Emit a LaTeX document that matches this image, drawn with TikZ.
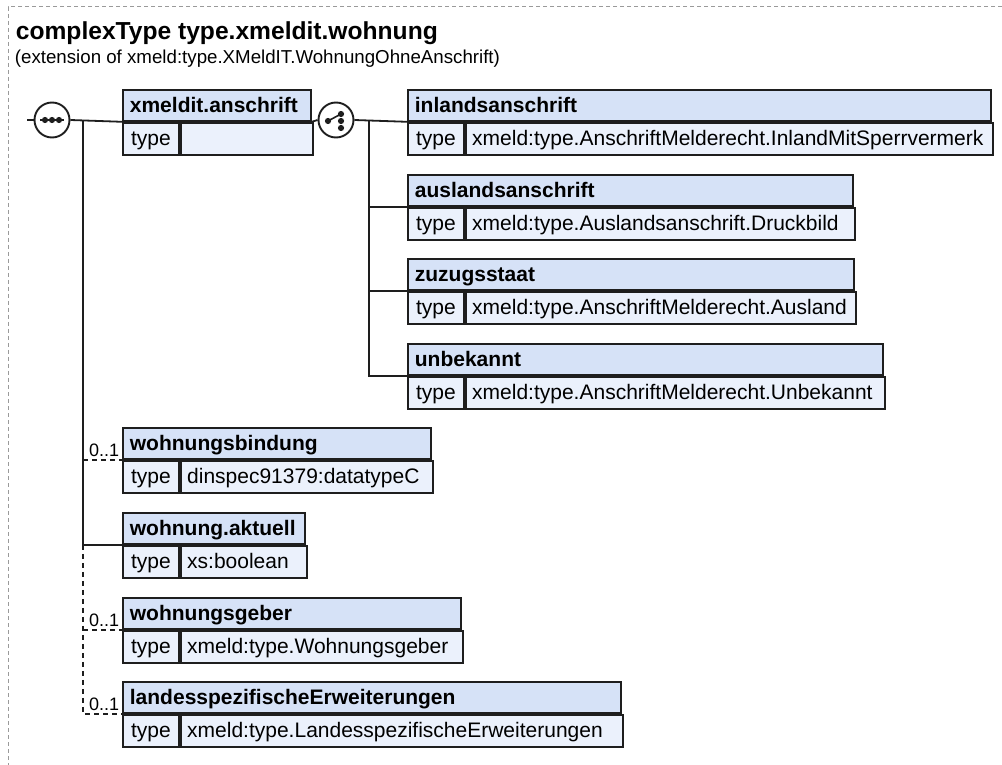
\documentclass[tikz,border=0pt]{standalone}
\usepackage{fontspec}
\setmainfont{Liberation Sans}
\usetikzlibrary{calc}
\definecolor{xHead}{HTML}{D6E2F7}
\definecolor{xRow}{HTML}{EBF1FC}
\definecolor{xLine}{HTML}{1E1E1E}
\definecolor{xFrame}{HTML}{9A9A9A}
\hyphenpenalty=10000

\begin{document}
\begin{tikzpicture}[x=1pt, y=-1pt, line width=1.8pt, xLine,
  hdr/.style={draw=xLine, fill=xHead, text=black, line width=1.8pt, anchor=north west, minimum height=31pt, inner xsep=7pt, inner ysep=0pt, text height=15pt, text depth=1pt, text width=#1, align=left, font=\fontsize{21}{24}\selectfont\bfseries},
  tcell/.style={draw=xLine, fill=xRow, text=black, line width=1.8pt, anchor=north west, minimum width=56pt, minimum height=32pt, inner sep=0pt, text height=15pt, text depth=2pt, font=\fontsize{21}{24}\selectfont},
  vcell/.style={draw=xLine, fill=xRow, text=black, line width=1.8pt, anchor=north west, minimum height=32pt, inner xsep=6.5pt, inner ysep=0pt, text height=15pt, text depth=2pt, text width=#1, align=left, font=\fontsize{21}{24}\selectfont},
  grp/.style={draw=xLine, fill=white, circle, line width=1.9pt, minimum size=35pt, inner sep=0pt},
  occ/.style={anchor=base east, inner sep=0pt, text=black, font=\fontsize{18}{20}\selectfont},
  opt/.style={dash pattern=on 5pt off 4pt}]
\useasboundingbox (0,0) rectangle (1002,765);
\draw[xFrame, line width=1pt, dash pattern=on 4pt off 3pt] (1002,7) -- (8,7) -- (8,765);
\node[anchor=base west, inner sep=0pt, text=black, font=\fontsize{24.6}{28}\selectfont\bfseries] (title) at (15,40) {complexType type.xmeldit.wohnung};
\node[anchor=base west, inner sep=0pt, text=black, font=\fontsize{18.7}{22}\selectfont] (sub) at (14,64) {(extension of xmeld:type.XMeldIT.WohnungOhneAnschrift)};

% sequence and choice compositors
\node[grp] (seq) at (52,120) {};
\node[grp] (cho) at (336,120) {};
\draw[line width=1.5pt] ($(seq)+(-12,0)$) -- ($(seq)+(12,0)$);
\fill ($(seq)+(-7,0)$) circle (3.1pt); \fill (seq) circle (3.1pt); \fill ($(seq)+(7,0)$) circle (3.1pt);
\draw[line width=1.6pt] ($(cho)+(-8,1)$) -- ($(cho)+(5,-6)$);
\fill ($(cho)+(-8,1)$) circle (3.1pt); \fill ($(cho)+(5,-6)$) circle (3.1pt); \fill ($(cho)+(5,1)$) circle (3.1pt); \fill ($(cho)+(5,8)$) circle (3.1pt);

% element boxes
\node[hdr=174pt] (anschrift) at (122,89) {xmeldit.anschrift};
\node[tcell] (anschriftT) at (anschrift.south west) {type};
\node[vcell=119pt] (anschriftV) at (anschriftT.north east) {};
\node[hdr=569pt] (inland) at (407,89) {inlandsanschrift};
\node[tcell] (inlandT) at (inland.south west) {type};
\node[vcell=514pt] (inlandV) at (inlandT.north east) {xmeld:type.AnschriftMelderecht.InlandMitSperrvermerk};
\node[hdr=431pt] (ausland) at (407,174) {auslandsanschrift};
\node[tcell] (auslandT) at (ausland.south west) {type};
\node[vcell=376pt] (auslandV) at (auslandT.north east) {xmeld:type.Auslandsanschrift.Druckbild};
\node[hdr=432pt] (zuzug) at (407,258) {zuzugsstaat};
\node[tcell] (zuzugT) at (zuzug.south west) {type};
\node[vcell=377pt] (zuzugV) at (zuzugT.north east) {xmeld:type.AnschriftMelderecht.Ausland};
\node[hdr=461pt] (unbekannt) at (407,343) {unbekannt};
\node[tcell] (unbekanntT) at (unbekannt.south west) {type};
\node[vcell=406pt] (unbekanntV) at (unbekanntT.north east) {xmeld:type.AnschriftMelderecht.Unbekannt};
\node[hdr=294pt] (bindung) at (122,427) {wohnungsbindung};
\node[tcell] (bindungT) at (bindung.south west) {type};
\node[vcell=239pt] (bindungV) at (bindungT.north east) {dinspec91379:datatypeC};
\node[hdr=168pt] (aktuell) at (122,512) {wohnung.aktuell};
\node[tcell] (aktuellT) at (aktuell.south west) {type};
\node[vcell=113pt] (aktuellV) at (aktuellT.north east) {xs:boolean};
\node[hdr=324pt] (geber) at (122,597) {wohnungsgeber};
\node[tcell] (geberT) at (geber.south west) {type};
\node[vcell=269pt] (geberV) at (geberT.north east) {xmeld:type.Wohnungsgeber};
\node[hdr=484pt] (landes) at (122,681) {landesspezifischeErweiterungen};
\node[tcell] (landesT) at (landes.south west) {type};
\node[vcell=429pt] (landesV) at (landesT.north east) {xmeld:type.LandesspezifischeErweiterungen};

% connectors
\coordinate (in) at (27,120);
\coordinate (sq) at (83,120);
\coordinate (ch) at (369,120);
\draw (in) -- (seq.west); \draw (seq.east) -- (anschrift.south west);
\draw (anschrift.south east) -- (cho.west); \draw (cho.east) -- (inland.south west);
\draw (ch) |- (unbekannt.south west);
\draw (ausland.south west -| ch) -- (ausland.south west); \draw (zuzug.south west -| ch) -- (zuzug.south west);
\draw (sq) |- (aktuell.south west);
\draw[opt] (bindung.south west -| sq) -- (bindung.south west);
\draw[opt] (aktuell.south west -| sq) |- (landes.south west);
\draw[opt] (geber.south west -| sq) -- (geber.south west);
\node[occ] (occB) at ($(bindung.south west)+(-2,-3)$) {0..1};
\node[occ] (occG) at ($(geber.south west)+(-2,-3)$) {0..1};
\node[occ] (occL) at ($(landes.south west)+(-2,-3)$) {0..1};
\end{tikzpicture}
\end{document}
